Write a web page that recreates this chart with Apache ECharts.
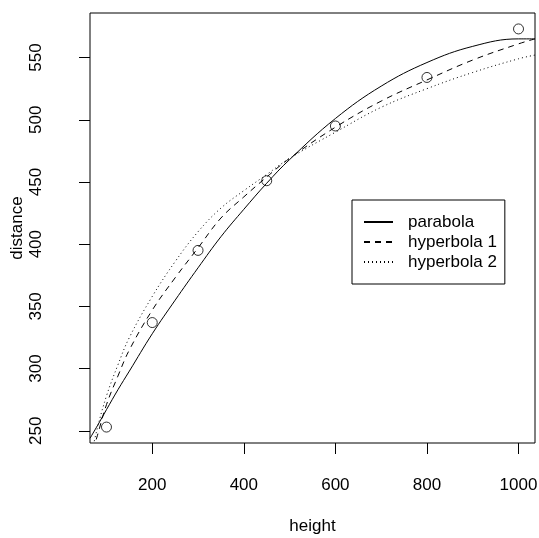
<!DOCTYPE html>
<html>
<head>
<meta charset="utf-8">
<script src="https://cdn.jsdelivr.net/npm/echarts@6/dist/echarts.min.js"></script>
<style>
  html, body { margin: 0; padding: 0; background: #fff; }
  #chartContainer { width: 539px; height: 538px; }
</style>
</head>
<body>
<div id="chartContainer"></div>
<script>
// observed points
const heights = [100, 200, 300, 450, 600, 800, 1000];
const distances = [253, 337, 395, 451, 495, 534, 573];

// fitted curves, values
const curveHeights = [64, 80, 100, 125, 150, 200, 250, 300, 350, 400, 450, 500, 600, 700, 800, 900, 1000, 1036];
const parabola   = [244, 254, 267, 283, 298, 328, 355, 381, 406, 428, 449, 468, 501, 527, 546, 559, 565, 565];
const hyperbola1 = [226, 246, 271, 294, 315, 347, 373, 397, 421, 438, 454, 469, 494, 515, 532, 548, 561, 565];
const hyperbola2 = [226, 252, 278, 303, 325, 358, 386, 410, 429, 443, 456, 469, 490, 510, 525, 538, 549, 552];

const xTicks = [200, 400, 600, 800, 1000];
const yTicks = [250, 300, 350, 400, 450, 500, 550];

const font = 'Liberation Sans, Arial, sans-serif';

function curve(name, values, type) {
    return {
        name: name,
        type: 'line',
        data: curveHeights.map((h, i) => [h, values[i]]),
        showSymbol: false,
        symbol: 'none',
        smooth: 0.4,
        clip: true,
        silent: true,
        lineStyle: { color: '#000', width: 1, type: type },
        itemStyle: { color: '#000' }
    };
}

const myChart = echarts.init(document.getElementById('chartContainer'));

const option = {
    animation: false,
    backgroundColor: '#fff',
    grid: {
        left: 90, right: 4, top: 13, bottom: 95,
        outerBoundsMode: 'none',
        containLabel: false,
        show: true, borderColor: '#000', borderWidth: 1
    },
    legend: {
        orient: 'vertical',
        left: 352, top: 200,
        data: ['parabola', 'hyperbola 1', 'hyperbola 2'],
        itemWidth: 29, itemHeight: 14, itemGap: 0,
        padding: [12, 8, 12, 11],
        borderColor: '#000', borderWidth: 1,
        backgroundColor: '#fff',
        itemStyle: { opacity: 0 },
        textStyle: { fontSize: 17, fontFamily: font, color: '#000', lineHeight: 20, padding: [0, 0, 0, 10] }
    },
    xAxis: {
        type: 'value',
        min: 64, max: 1036,
        name: 'height',
        nameLocation: 'middle',
        nameGap: 75,
        nameTextStyle: { fontSize: 17, fontFamily: font, color: '#000' },
        axisLine: { show: false },
        axisTick: { show: true, length: 11, customValues: xTicks, lineStyle: { color: '#000' } },
        axisLabel: { customValues: xTicks, margin: 34, fontSize: 17, fontFamily: font, color: '#000',
            formatter: v => String(v) },
        splitLine: { show: false }
    },
    yAxis: {
        type: 'value',
        min: 240.2, max: 585.8,
        name: 'distance',
        nameLocation: 'middle',
        nameGap: 64,
        nameMoveOverlap: false,
        nameTextStyle: { fontSize: 17, fontFamily: font, color: '#000' },
        axisLine: { show: false },
        axisTick: { show: true, length: 11, customValues: yTicks, lineStyle: { color: '#000' } },
        axisLabel: { customValues: yTicks, rotate: 90, margin: 45, fontSize: 17, fontFamily: font, color: '#000',
            formatter: v => String(v) },
        splitLine: { show: false }
    },
    series: [
        {
            name: 'data',
            type: 'scatter',
            data: heights.map((h, i) => [h, distances[i]]),
            symbol: 'circle',
            symbolSize: 10,
            silent: true,
            itemStyle: { color: 'rgba(0,0,0,0)', borderColor: '#000', borderWidth: 1 }
        },
        curve('parabola', parabola, 'solid'),
        curve('hyperbola 1', hyperbola1, [6, 5]),
        curve('hyperbola 2', hyperbola2, [1, 3])
    ]
};

myChart.setOption(option);
</script>
</body>
</html>
